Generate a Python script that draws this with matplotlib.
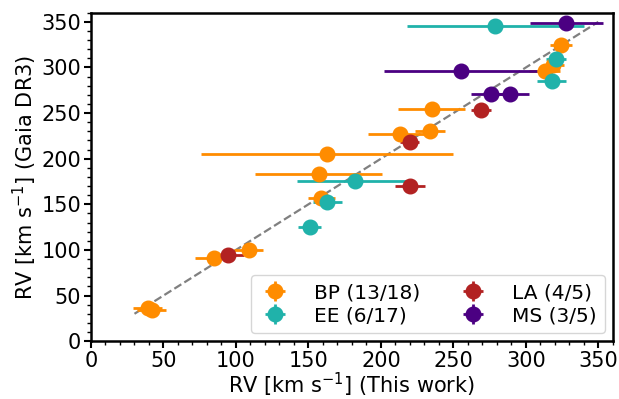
import matplotlib
matplotlib.use("Agg")
import matplotlib.pyplot as plt
from matplotlib.ticker import MultipleLocator

# BP
bp_x = [39, 42, 85, 109, 159, 157, 163, 213, 234, 235, 313, 319, 324]
bp_y = [36, 34, 91, 100, 157, 183, 205, 227, 230, 255, 296, 303, 325]
bp_xerr = [10, 10, 13, 10, 9, 44, 87, 22, 10.5, 23, 10.5, 7, 7.6]
# EE
ee_x = [151, 163, 182, 279, 321, 318]
ee_y = [125, 153, 176, 346, 309, 285]
ee_xerr = [8, 10, 40, 61, 7, 10]
# LA
la_x = [94.5, 220, 220, 269]
la_y = [94.5, 218, 170, 253]
la_xerr = [11, 6.6, 10.5, 7]
# MS
ms_x = [328, 255, 276, 289]
ms_y = [349, 296, 270.5, 270.5]
ms_xerr = [25, 53, 14, 13]

labels = ["BP (13/18)", "EE (6/17)", "LA (4/5)", "MS (3/5)"]
colors = ["darkorange", "lightseagreen", "firebrick", "indigo"]

plt.rcParams['font.family'] = ['DejaVu Sans']
fig = plt.figure(figsize=(6.19, 3.99), dpi=100)
ax = fig.add_axes([0.147, 0.145, 0.843, 0.823])

ax.plot([30, 350], [30, 350], ls='--', color='gray', lw=1.6, zorder=1)

series = [(bp_x, bp_y, bp_xerr), (ee_x, ee_y, ee_xerr), (la_x, la_y, la_xerr), (ms_x, ms_y, ms_xerr)]
for (x, y, xe), lab, c in zip(series, labels, colors):
    ax.errorbar(x, y, xerr=xe, yerr=[3]*len(x), fmt='o', color=c, ms=10.5,
                elinewidth=2, capsize=0, label=lab, zorder=2)

ax.set_xlim(0, 360)
ax.set_ylim(0, 360)
ax.xaxis.set_major_locator(MultipleLocator(50))
ax.yaxis.set_major_locator(MultipleLocator(50))
ax.xaxis.set_minor_locator(MultipleLocator(10))
ax.yaxis.set_minor_locator(MultipleLocator(10))
ax.tick_params(which='major', labelsize=15, width=1.5, length=5, pad=2)
ax.tick_params(which='minor', width=1, length=3)
for s in ax.spines.values():
    s.set_linewidth(1.8)

ax.set_xlabel(r"RV [km s$^{-1}$] (This work)", fontsize=15, labelpad=0)
ax.set_ylabel(r"RV [km s$^{-1}$] (Gaia DR3)", fontsize=15, labelpad=2)
ax.legend(loc='lower right', ncol=2, fontsize=14.5, handletextpad=1.15,
          columnspacing=1.8, borderaxespad=0.4, labelspacing=0.2, handlelength=1.6)

fig.savefig("out.png", dpi=100)
